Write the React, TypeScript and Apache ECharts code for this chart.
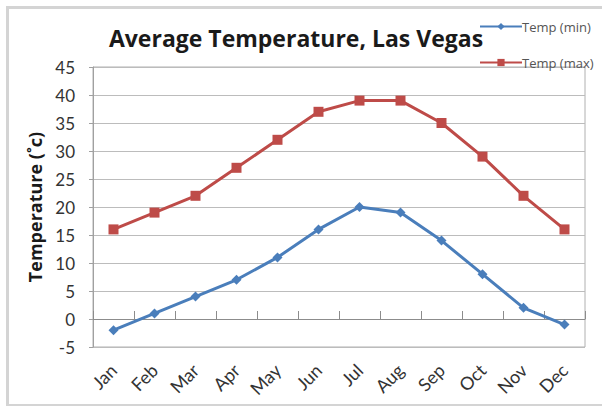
import React, { useEffect, useRef } from "react";
import * as echarts from "echarts";

const months = ["Jan", "Feb", "Mar", "Apr", "May", "Jun", "Jul", "Aug", "Sep", "Oct", "Nov", "Dec"];
const tempMin = [-2, 1, 4, 7, 11, 16, 20, 19, 14, 8, 2, -1];
const tempMax = [16, 19, 22, 27, 32, 37, 39, 39, 35, 29, 22, 16];
const yMin = -5;
const yMax = 45;
const yInterval = 5;

const FONT = "Lato, 'Open Sans', sans-serif";
const WIDE = "'Open Sans', Lato, sans-serif";
const BLUE = "#4a7ebb";
const RED = "#be4b48";

export default function App() {
  const ref = useRef<HTMLDivElement>(null);
  useEffect(() => {
    if (!ref.current) return;
    const chart = echarts.init(ref.current, undefined, { renderer: "svg" });
    const gridRect = { left: 93, right: 17, top: 67, bottom: 59 };
    chart.setOption({
      animation: false,
      backgroundColor: "#ffffff",
      textStyle: { fontFamily: FONT },
      title: {
        text: "Average Temperature, Las Vegas",
        left: 291,
        textAlign: "center",
        top: 21,
        textStyle: { fontFamily: WIDE, fontSize: 23, fontWeight: "bold", color: "#1a1a1a" },
      },
      legend: {
        orient: "vertical",
        left: 474,
        top: 15,
        itemGap: 23,
        itemWidth: 42,
        itemHeight: 9,
        data: ["Temp (min)", "Temp (max)"],
        textStyle: { fontFamily: WIDE, fontSize: 13, color: "#555", padding: [0, 0, 0, -5] },
      },
      graphic: [
        {
          type: "rect",
          left: 5,
          top: 5,
          shape: { x: 0, y: 0, width: 620, height: 398 },
          style: { fill: "none", stroke: "#d4d4d4", lineWidth: 3 },
          silent: true,
          z: -1,
        },
      ],
      grid: [
        { ...gridRect, show: true, borderColor: "#b0b0b0", borderWidth: 1 },
        { ...gridRect, show: false },
      ],
      xAxis: [
        {
          type: "category",
          gridIndex: 0,
          data: months,
          boundaryGap: true,
          position: "bottom",
          axisLine: { show: false, onZero: false },
          axisTick: { show: false },
          axisLabel: {
            interval: 0,
            rotate: 45,
            margin: 20,
            fontSize: 18,
            color: "#333",
            fontFamily: FONT,
          },
          splitLine: { show: false },
        },
        {
          type: "category",
          gridIndex: 0,
          data: months,
          boundaryGap: true,
          axisLine: { show: true, onZero: true, lineStyle: { color: "#8c8c8c", width: 1 } },
          axisTick: { show: true, length: 8, lineStyle: { color: "#8c8c8c" } },
          axisLabel: { show: false },
          splitLine: { show: false },
        },
        {
          type: "category",
          gridIndex: 1,
          data: months,
          boundaryGap: true,
          axisLine: { show: false, onZero: true },
          axisTick: { show: true, inside: true, length: 6, lineStyle: { color: "#8c8c8c" } },
          axisLabel: { show: false },
          splitLine: { show: false },
        },
      ],
      yAxis: [
        {
          type: "value",
          gridIndex: 0,
          min: yMin,
          max: yMax,
          interval: yInterval,
          name: "Temperature (˚c)",
          nameLocation: "middle",
          nameGap: 49,
          nameRotate: 90,
          nameTextStyle: { fontFamily: WIDE, fontSize: 18, fontWeight: "bold", color: "#1a1a1a" },
          axisLine: { show: true, lineStyle: { color: "#a0a0a0" } },
          axisTick: { show: true, length: 4, lineStyle: { color: "#a0a0a0" } },
          axisLabel: { fontSize: 17, color: "#333", margin: 18, fontFamily: FONT },
          splitLine: { show: true, lineStyle: { color: "#bcbcbc", width: 1 } },
        },
        {
          type: "value",
          gridIndex: 1,
          min: yMin,
          max: yMax,
          interval: yInterval,
          show: false,
          splitLine: { show: false },
        },
      ],
      series: [
        {
          name: "Temp (min)",
          type: "line",
          xAxisIndex: 0,
          yAxisIndex: 0,
          data: tempMin,
          symbol: "diamond",
          symbolSize: 10,
          itemStyle: { color: BLUE },
          lineStyle: { color: BLUE, width: 3 },
          z: 5,
        },
        {
          name: "Temp (max)",
          type: "line",
          xAxisIndex: 0,
          yAxisIndex: 0,
          data: tempMax,
          symbol: "rect",
          symbolSize: 10,
          itemStyle: { color: RED },
          lineStyle: { color: RED, width: 3 },
          z: 5,
        },
      ],
    });
    return () => chart.dispose();
  }, []);
  return (
    <div
      ref={ref}
      style={{ position: "absolute", left: 0, top: 0, width: 602, height: 406 }}
    />
  );
}
